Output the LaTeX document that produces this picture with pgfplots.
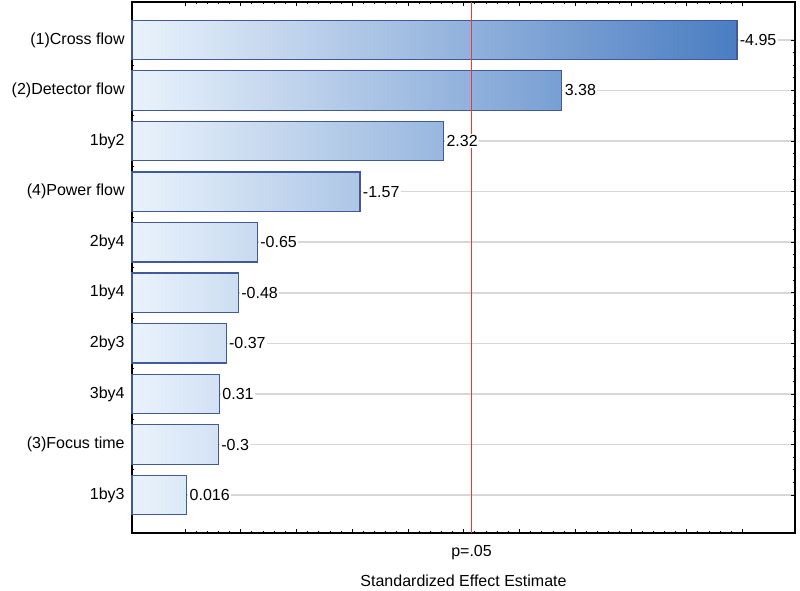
\documentclass[border=0pt]{standalone}
\usepackage{fontspec}
\setmainfont{Liberation Sans}
\usepackage{pgfplots}
\pgfplotsset{compat=1.18}
\definecolor{bdark}{RGB}{74,125,194}
\definecolor{blight}{RGB}{234,243,252}
\definecolor{bedge}{RGB}{65,90,155}
\definecolor{critred}{rgb}{0.90,0.24,0.20}
\definecolor{gridc}{RGB}{215,215,215}
\begin{document}
\begin{tikzpicture}
\begin{axis}[
  scale only axis,
  width=497.25pt, height=398.25pt,
  xmin=0, xmax=5.946,
  ymin=0.25, ymax=10.75,
  x filter/.expression={x+0.475},
  xtick={0.475,0.975,1.475,1.975,2.475,2.975,3.475,3.975,4.475,4.975,5.475},
  xticklabels={},
  minor x tick num=4,
  extra x ticks={3.045},
  extra x tick labels={p=.05},
  extra x tick style={grid=none, major tick length=0pt, xticklabel style={font=\fontsize{12}{14}\selectfont, yshift=-6pt}},
  ytick={1,2,3,4,5,6,7,8,9,10},
  yticklabels={1by3,(3)Focus time,3by4,2by3,1by4,2by4,(4)Power flow,1by2,(2)Detector flow,(1)Cross flow},
  minor y tick num=3,
  ymajorgrids,
  major grid style={gridc, line width=1.2pt},
  tick align=inside,
  major tick length=3pt,
  minor tick length=1.5pt,
  tick style={black, line width=0.6pt},
  yticklabel style={font=\fontsize{12}{14}\selectfont, xshift=-2pt},
  xlabel={Standardized Effect Estimate},
  xlabel style={font=\fontsize{12}{14}\selectfont, yshift=-4pt},
  axis line style={black, line width=1pt},
  clip=false,
]
\addplot[xbar, bar width=0.78, bar shift=0pt, draw=bedge, line width=0.9pt, left color=blight, right color=bdark!100!blight] coordinates {(4.95,10)};
\addplot[xbar, bar width=0.78, bar shift=0pt, draw=bedge, line width=0.9pt, left color=blight, right color=bdark!71!blight] coordinates {(3.38,9)};
\addplot[xbar, bar width=0.78, bar shift=0pt, draw=bedge, line width=0.9pt, left color=blight, right color=bdark!51!blight] coordinates {(2.32,8)};
\addplot[xbar, bar width=0.78, bar shift=0pt, draw=bedge, line width=0.9pt, left color=blight, right color=bdark!38!blight] coordinates {(1.57,7)};
\addplot[xbar, bar width=0.78, bar shift=0pt, draw=bedge, line width=0.9pt, left color=blight, right color=bdark!21!blight] coordinates {(0.65,6)};
\addplot[xbar, bar width=0.78, bar shift=0pt, draw=bedge, line width=0.9pt, left color=blight, right color=bdark!18!blight] coordinates {(0.48,5)};
\addplot[xbar, bar width=0.78, bar shift=0pt, draw=bedge, line width=0.9pt, left color=blight, right color=bdark!16!blight] coordinates {(0.37,4)};
\addplot[xbar, bar width=0.78, bar shift=0pt, draw=bedge, line width=0.9pt, left color=blight, right color=bdark!15!blight] coordinates {(0.31,3)};
\addplot[xbar, bar width=0.78, bar shift=0pt, draw=bedge, line width=0.9pt, left color=blight, right color=bdark!14!blight] coordinates {(0.30,2)};
\addplot[xbar, bar width=0.78, bar shift=0pt, draw=bedge, line width=0.9pt, left color=blight, right color=bdark!9!blight] coordinates {(0.016,1)};
% value labels
\addplot[sharp plot, draw=none, mark=none, point meta=explicit symbolic,
  nodes near coords,
  every node near coord/.append style={anchor=west, fill=white, text=black, inner sep=1pt, xshift=1pt, font=\fontsize{12}{14}\selectfont}]
  coordinates {
  (4.95,10) [-4.95]
  (3.38,9) [3.38]
  (2.32,8) [2.32]
  (1.57,7) [-1.57]
  (0.65,6) [-0.65]
  (0.48,5) [-0.48]
  (0.37,4) [-0.37]
  (0.31,3) [0.31]
  (0.30,2) [-0.3]
  (0.016,1) [0.016]
  };
% p = .05 critical value (t = 2.57)
\addplot[sharp plot, mark=none, color=critred, draw=critred, line width=1.2pt] coordinates {(2.57,0.25) (2.57,10.75)};
\path (rel axis cs:0,0) ++(-99pt,-43.5pt) coordinate (bbsw);
\path (rel axis cs:1,1) ++(3.75pt,1.5pt) coordinate (bbne);
\end{axis}
\pgfresetboundingbox
\path[use as bounding box] (bbsw) rectangle (bbne);
\end{tikzpicture}
\end{document}
